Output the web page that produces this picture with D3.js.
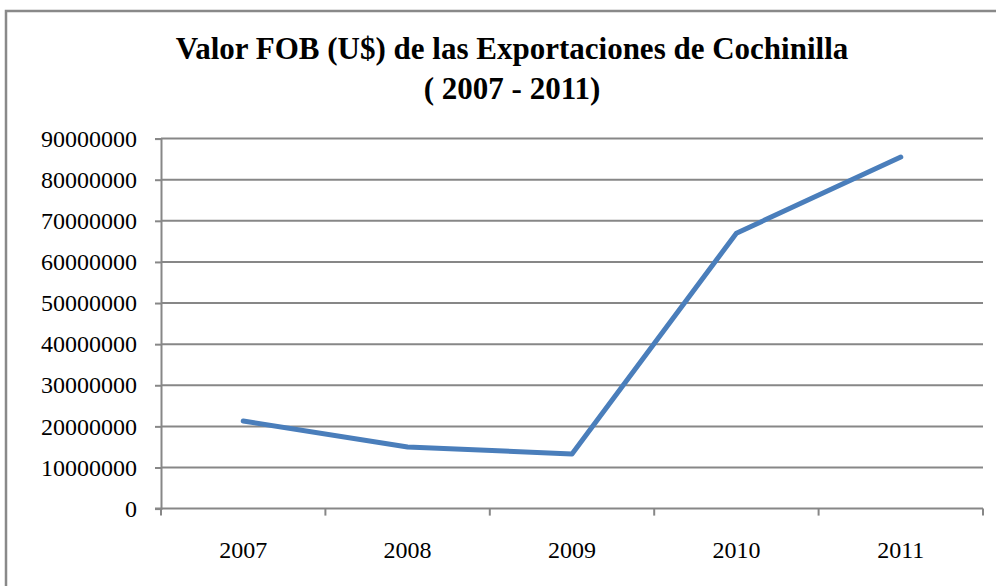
<!DOCTYPE html>
<html><head><meta charset="utf-8">
<script src="https://cdn.jsdelivr.net/npm/d3@7"></script>
<style>html,body{margin:0;padding:0;background:#fff;overflow:hidden}</style>
</head><body>
<svg id="c" width="996" height="586"></svg>
<script>
const categories = ["2007","2008","2009","2010","2011"];
const values = [21300000, 15000000, 13300000, 67000000, 85500000];
const yTicks = [0,10000000,20000000,30000000,40000000,50000000,60000000,70000000,80000000,90000000];
const titleLines = ["Valor FOB (U$) de las Exportaciones de Cochinilla", "( 2007 - 2011)"];

const svg = d3.select("#c");
const font = "'Liberation Serif','Times New Roman',serif";
// outer chart border
svg.append("rect").attr("x",6).attr("y",11).attr("width",1100).attr("height",700)
  .attr("fill","none").attr("stroke","#898989").attr("stroke-width",2.5);

const L=161, R=983, T=138.6, B=508.6;
const x = d3.scaleBand().domain(categories).range([L,R]);
const y = d3.scaleLinear().domain([0,90000000]).range([B,T]);

// gridlines
svg.append("g").selectAll("line").data(yTicks.filter(d=>d>0)).join("line")
  .attr("x1",L).attr("x2",R).attr("y1",d=>y(d)).attr("y2",d=>y(d))
  .attr("stroke","#878787").attr("stroke-width",2);

// y axis
const ya = svg.append("g").attr("transform",`translate(${L},0)`)
  .call(d3.axisLeft(y).tickValues(yTicks).tickFormat(d3.format("d")).tickSize(6).tickPadding(18));
ya.attr("font-family",font).attr("font-size",24);
ya.select(".domain").attr("stroke","#878787").attr("stroke-width",2);
ya.selectAll(".tick line").attr("stroke","#878787").attr("stroke-width",2);
ya.selectAll("text").style("font-family",font).style("font-size","24px").attr("fill","#000");

// x axis
const xa = svg.append("g").attr("transform",`translate(0,${B})`)
  .call(d3.axisBottom(x).tickSize(0).tickPadding(32));
xa.attr("font-family",font).attr("font-size",24);
xa.select(".domain").attr("stroke","#878787").attr("stroke-width",2).attr("d",`M${L-6},0H${R}`);
xa.selectAll("text").style("font-family",font).style("font-size","24px").attr("fill","#000");
// category boundary ticks
const bounds = categories.map(c=>x(c)).concat([R]);
svg.append("g").selectAll("line").data(bounds).join("line")
  .attr("x1",d=>d).attr("x2",d=>d).attr("y1",B).attr("y2",B+7)
  .attr("stroke","#878787").attr("stroke-width",2);

// line
const line = d3.line().x((d,i)=>x(categories[i])+x.bandwidth()/2).y(d=>y(d));
svg.append("path").datum(values).attr("d",line).attr("fill","none")
  .attr("stroke","#4A7EBB").attr("stroke-width",5).attr("stroke-linecap","round").attr("stroke-linejoin","round");

// title
svg.append("g").selectAll("text").data(titleLines).join("text")
  .attr("x",512).attr("y",(d,i)=>59+i*40).attr("text-anchor","middle")
  .style("font-family",font).attr("font-weight","bold").style("font-size","31px").attr("fill","#000")
  .text(d=>d);
</script>
</body></html>
